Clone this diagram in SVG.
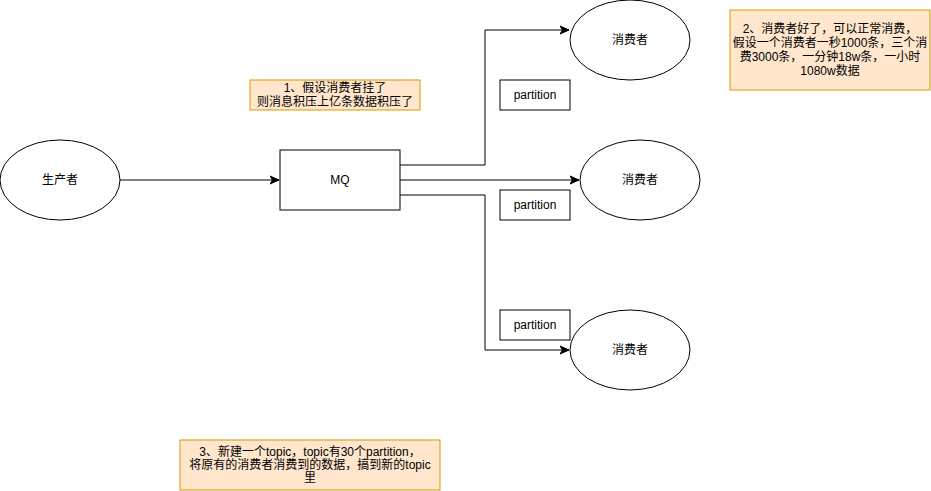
<svg xmlns="http://www.w3.org/2000/svg" width="931" height="491" viewBox="0 0 931 491">
<defs>
<style>
text{font-family:"Liberation Sans","Noto Sans CJK SC",sans-serif;font-size:12px;fill:#000;text-anchor:middle;dominant-baseline:central}
.n{fill:#fff;stroke:#000;stroke-width:1}
.note{fill:#ffe6cc;stroke:#d79b00;stroke-width:1}
.e{fill:none;stroke:#000;stroke-width:1}
</style>
<marker id="arr" viewBox="0 0 10 10" refX="9" refY="5" markerWidth="10" markerHeight="10" markerUnits="userSpaceOnUse" orient="auto">
<path d="M0,1 L9,5 L0,9 L2.5,5 Z" fill="#000" stroke="#000" stroke-width="1"/>
</marker>
</defs>
<rect width="931" height="491" fill="#fff"/>
<g id="connectors">
<path class="e" d="M120,180 L279,180" marker-end="url(#arr)"/>
<path class="e" d="M400,165 L485,165 L485,30 L569,30" marker-end="url(#arr)"/>
<path class="e" d="M400,180 L579,180" marker-end="url(#arr)"/>
<path class="e" d="M400,195 L485,195 L485,350 L569,350" marker-end="url(#arr)"/>
</g>
<g id="producer"><ellipse class="n" cx="60" cy="180" rx="60" ry="40"/><text x="60" y="180">生产者</text></g>
<g id="mq"><rect class="n" x="280" y="150" width="120" height="60"/><text x="340" y="180">MQ</text></g>
<g id="consumer1"><ellipse class="n" cx="630" cy="40" rx="60" ry="40"/><text x="630" y="40">消费者</text></g>
<g id="consumer2"><ellipse class="n" cx="640" cy="180" rx="60" ry="40"/><text x="640" y="180">消费者</text></g>
<g id="consumer3"><ellipse class="n" cx="630" cy="350" rx="60" ry="40"/><text x="630" y="350">消费者</text></g>
<g id="partition1"><rect class="n" x="500" y="80" width="70" height="30"/><text x="535" y="95">partition</text></g>
<g id="partition2"><rect class="n" x="500" y="190" width="70" height="30"/><text x="535" y="205">partition</text></g>
<g id="partition3"><rect class="n" x="500" y="310" width="70" height="30"/><text x="535" y="325">partition</text></g>
<g id="note1"><rect class="note" x="250" y="80" width="170" height="30"/><text x="335" y="88">1、假设消费者挂了</text><text x="335" y="102">则消息积压上亿条数据积压了</text></g>
<g id="note2"><rect class="note" x="730" y="10" width="200" height="80"/>
<text x="830" y="29">2、消费者好了，可以正常消费，</text>
<text x="830" y="43">假设一个消费者一秒1000条，三个消</text>
<text x="830" y="57">费3000条，一分钟18w条，一小时</text>
<text x="830" y="71">1080w数据</text></g>
<g id="note3"><rect class="note" x="180" y="440" width="260" height="50"/>
<text x="310" y="452">3、新建一个topic，topic有30个partition，</text>
<text x="310" y="465">将原有的消费者消费到的数据，搞到新的topic</text>
<text x="310" y="478">里</text></g>
</svg>
